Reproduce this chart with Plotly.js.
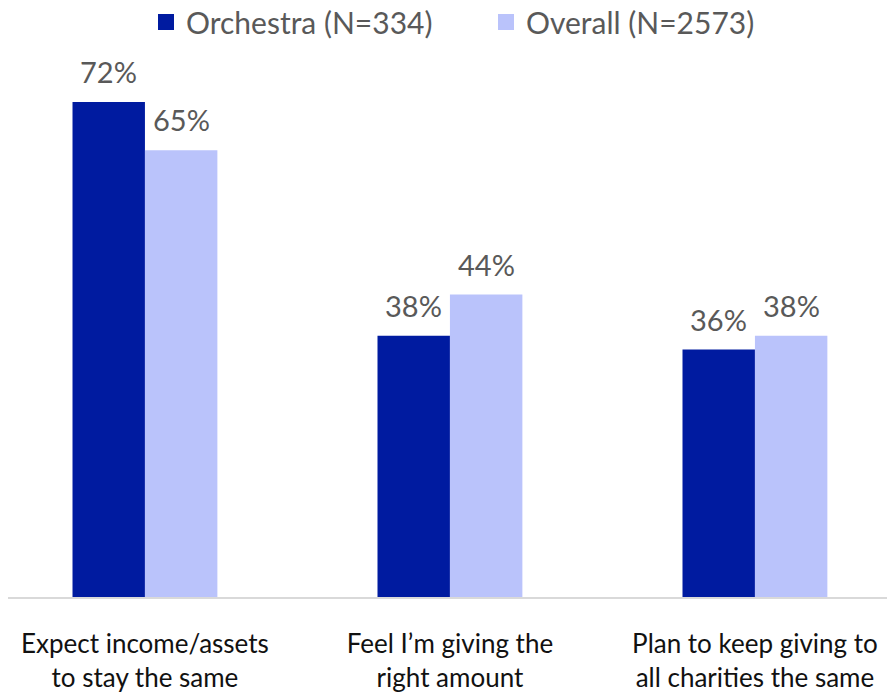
<!DOCTYPE html>
<html>
<head>
<meta charset="utf-8">
<script src="https://cdn.plot.ly/plotly-3.0.1.min.js"></script>
<style>html,body{margin:0;padding:0;background:#fff;}#chart{width:887px;height:696px;}</style>
</head>
<body>
<div id="chart"></div>
<script>
const categories = ["Expect income/assets<br>to stay the same", "Feel I’m giving the<br>right amount", "Plan to keep giving to<br>all charities the same"];
const seriesNames = ["Orchestra (N=334)", "Overall (N=2573)"];
const orchestra = [72, 38, 36];
const overall = [65, 44, 38];
const colors = ["#001BA0", "#BAC3FB"];

const idx = categories.map((c, i) => i);
const bargap = 0.525;
const half = (1 - bargap) / 4;

const traces = [orchestra, overall].map((vals, k) => ({
  type: "bar",
  name: seriesNames[k],
  x: idx,
  y: vals,
  marker: { color: colors[k], line: { width: 0 } },
  showlegend: false,
  hoverinfo: "skip"
}));

// legend-only entries with larger square swatches
seriesNames.forEach((n, k) => {
  traces.push({
    type: "scatter",
    mode: "markers",
    name: n,
    x: [null], y: [null],
    marker: { symbol: "square", size: 16, color: colors[k] },
    showlegend: true,
    hoverinfo: "skip"
  });
});

const annotations = [];
[orchestra, overall].forEach((vals, k) => {
  vals.forEach((v, i) => {
    annotations.push({
      x: i + (k === 0 ? -half : half),
      y: v,
      xref: "x", yref: "y",
      text: v + "%",
      showarrow: false,
      yanchor: "bottom",
      yshift: 11,
      font: { family: "Lato, sans-serif", size: 29, color: "#595959" }
    });
  });
});

const layout = {
  width: 887, height: 696,
  margin: { l: 8, r: 0, t: 47, b: 99, autoexpand: false },
  paper_bgcolor: "#ffffff",
  plot_bgcolor: "#ffffff",
  barmode: "group",
  bargap: bargap,
  bargroupgap: 0,
  showlegend: true,
  legend: {
    orientation: "h",
    xref: "container", yref: "container",
    x: 146 / 887, xanchor: "left",
    y: 1 - 22 / 696, yanchor: "middle",
    font: { family: "Lato, sans-serif", size: 30, color: "#595959" },
    itemsizing: "trace",
    entrywidth: 295,
    entrywidthmode: "pixels",
    traceorder: "normal"
  },
  xaxis: {
    range: [-0.449, 2.433],
    tickmode: "array",
    tickvals: idx,
    ticktext: categories,
    showgrid: false,
    zeroline: false,
    showline: true,
    linecolor: "#D9D9D9",
    linewidth: 1.5,
    ticks: "outside",
    ticklen: 23,
    tickcolor: "rgba(0,0,0,0)",
    tickfont: { family: "Lato, sans-serif", size: 26, color: "#111111" },
    automargin: false,
    fixedrange: true
  },
  yaxis: {
    range: [0, 80],
    visible: false,
    showgrid: false,
    zeroline: false,
    fixedrange: true
  },
  annotations: annotations
};

Plotly.newPlot("chart", traces, layout, { displayModeBar: false, staticPlot: true });
</script>
</body>
</html>
